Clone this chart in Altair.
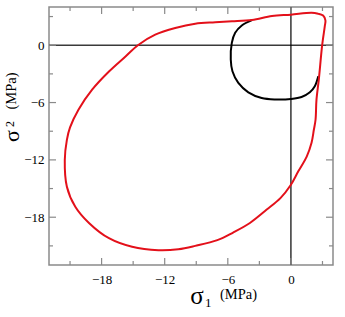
import altair as alt
import pandas as pd

# Red loop (sigma1, sigma2) in MPa
red_x = [2.6, 1.96, 0.0, -1.8, -3.7, -5.6, -7.2, -9.1, -11.0, -12.9, -14.55, -15.7, -17.3, -18.9,
         -20.2, -21.0, -21.3, -21.5, -21.3, -20.5, -19.2, -17.3, -15.1, -12.6, -10.7, -9.1, -7.0,
         -5.5, -3.9, -2.3, -1.0, 0.0, 0.7, 1.5, 1.96, 2.18, 2.34, 2.43, 2.65, 2.97, 3.22, 3.28, 3.06, 2.6]
red_y = [3.3, 3.4, 3.2, 3.05, 2.65, 2.5, 2.4, 2.25, 1.8, 1.1, 0.0, -1.15, -2.75, -4.65,
         -6.75, -8.6, -9.9, -12.0, -14.8, -16.9, -18.6, -20.2, -21.1, -21.45, -21.35, -21.0, -20.4,
         -19.6, -18.6, -17.2, -16.0, -14.6, -13.2, -11.65, -10.2, -8.85, -7.8, -5.7, -3.6, 0.0, 2.0, 2.6, 3.1, 3.3]

# Black inner curve
black_x = [-3.7, -4.67, -5.3, -5.62, -5.72, -5.56, -5.0, -4.05, -2.78, -1.52, 0.0, 1.01, 1.8, 2.27, 2.6]
black_y = [2.62, 2.07, 1.3, 0.25, -1.5, -2.73, -3.95, -4.93, -5.52, -5.67, -5.62, -5.42, -4.93, -4.3, -3.25]

major_ticks = [-18, -12, -6, 0]
minor_ticks = [-21, -15, -9, -3, 3]

W, H = 284, 258
dom = [-23, 4]
xs = alt.Scale(domain=dom, nice=False, zero=False)
ys = alt.Scale(domain=dom, nice=False, zero=False)
SERIF = "Liberation Serif"
FRAME = "#8a8a8a"

red_df = pd.DataFrame({"x": red_x, "y": red_y, "i": list(range(len(red_x)))})
black_df = pd.DataFrame({"x": black_x, "y": black_y, "i": list(range(len(black_x)))})

xaxis = alt.Axis(values=major_ticks, ticks=False, domain=False, grid=False, labelFont=SERIF,
                 labelFontSize=13, labelColor="black", labelPadding=8, title=None)
yaxis = alt.Axis(values=major_ticks, ticks=False, domain=False, grid=False, labelFont=SERIF,
                 labelFontSize=13, labelColor="black", labelPadding=5, title=None)


def X(f):
    return alt.X(f, scale=xs, axis=xaxis, title=None)


def Y(f):
    return alt.Y(f, scale=ys, axis=yaxis, title=None)


layers = []

# zero lines
zero_df = pd.DataFrame({"v": [0]})
layers.append(alt.Chart(zero_df).mark_rule(color="#3a3a3a", strokeWidth=1.5).encode(
    y=Y("v:Q"), x=alt.value(0), x2=alt.value(W)))
layers.append(alt.Chart(zero_df).mark_rule(color="black", strokeWidth=1.2).encode(
    x=X("v:Q"), y=alt.value(0), y2=alt.value(H)))

# ticks on all four sides
for vals, ln in ((major_ticks, 7), (minor_ticks, 4)):
    tdf = pd.DataFrame({"v": vals})
    for y0, y1 in ((H, H - ln), (0, ln)):
        layers.append(alt.Chart(tdf).mark_rule(color=FRAME, strokeWidth=1.2).encode(
            x=X("v:Q"), y=alt.value(y0), y2=alt.value(y1)))
    for x0, x1 in ((0, ln), (W, W - ln)):
        layers.append(alt.Chart(tdf).mark_rule(color=FRAME, strokeWidth=1.2).encode(
            y=Y("v:Q"), x=alt.value(x0), x2=alt.value(x1)))

# curves
layers.append(alt.Chart(black_df).mark_line(color="black", strokeWidth=2, interpolate="catmull-rom").encode(
    x=X("x:Q"), y=Y("y:Q"), order="i:Q"))
layers.append(alt.Chart(red_df).mark_line(color="#e3101a", strokeWidth=2, interpolate="catmull-rom").encode(
    x=X("x:Q"), y=Y("y:Q"), order="i:Q"))

# axis titles
one = pd.DataFrame({"a": [0]})


def txt(t, x, y, size, align="left", angle=0, baseline="alphabetic"):
    return alt.Chart(one).mark_text(text=t, font=SERIF, fontSize=size, color="black", align=align,
                                    baseline=baseline, angle=angle).encode(
        x=alt.value(x), y=alt.value(y), angle=alt.value(angle))


layers += [
    txt("σ", 148, 297, 25, align="center"),
    txt("1", 156, 300, 13),
    txt("(MPa)", 171, 292, 14.5),
    txt("σ", -37, 129, 22, align="center", angle=270, baseline="middle"),
    txt("2", -39, 117, 12, align="center", angle=270, baseline="middle"),
    txt("(MPa)", -37, 84, 14.5, align="center", angle=270, baseline="middle"),
]

chart = alt.layer(*layers).properties(
    width=W, height=H,
    padding={"left": 49, "top": 7, "right": 12, "bottom": 52},
    autosize=alt.AutoSizeParams(type="none"),
).configure_view(stroke=FRAME, strokeWidth=1.5)

chart.save("out.html", embed_options={"renderer": "svg", "actions": False})
